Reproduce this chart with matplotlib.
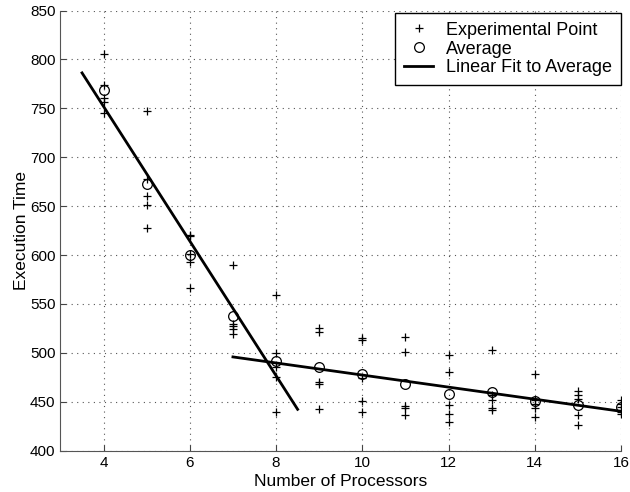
import numpy as np
import matplotlib
matplotlib.use("Agg")
from matplotlib import pyplot as plt

plt.rcParams['font.family'] = ['Liberation Sans', 'DejaVu Sans']

# measured execution times, 5 runs per processor count
procs = [4, 5, 6, 7, 8, 9, 10, 11, 12, 13, 14, 15, 16]
runs = [
    [806, 774, 761, 757, 745],
    [747, 678, 660, 651, 628],
    [621, 619, 601, 593, 566],
    [590, 530, 527, 524, 519],
    [559, 500, 486, 475, 440],
    [525, 521, 470, 468, 443],
    [515, 513, 474, 451, 440],
    [516, 501, 446, 444, 436],
    [498, 480, 447, 438, 429],
    [503, 457, 452, 444, 442],
    [478, 452, 448, 444, 434],
    [461, 457, 453, 436, 426],
    [452, 448, 445, 440, 437],
]
# fit ranges and the x-span each fitted line is drawn over
fit1_procs, fit1_span = (4, 8), (3.5, 8.5)
fit2_procs, fit2_span = (8, 16), (7, 16)

procs = np.array(procs)
avg = np.array([np.mean(r) for r in runs])

fig = plt.figure(figsize=(6.3, 4.92), dpi=100)
ax = fig.add_axes([0.096, 0.084, 0.8897, 0.8945])

xs = np.repeat(procs, [len(r) for r in runs])
ys = np.concatenate(runs)
ax.plot(xs, ys, '+', color='black', markersize=6, markeredgewidth=0.9,
        label='Experimental Point')
ax.plot(procs, avg, 'o', markerfacecolor='none', markeredgecolor='black',
        markersize=7, markeredgewidth=0.9, label='Average')

for (lo, hi), span, lab in [(fit1_procs, fit1_span, 'Linear Fit to Average'),
                            (fit2_procs, fit2_span, None)]:
    m = (procs >= lo) & (procs <= hi)
    k, b = np.polyfit(procs[m], avg[m], 1)
    xl = np.array(span)
    ax.plot(xl, k * xl + b, '-', color='black', linewidth=2, label=lab)

ax.set_xlim(3, 16)
ax.set_ylim(400, 850)
ax.set_xticks(range(4, 17, 2))
ax.set_yticks(range(400, 851, 50))
ax.set_xlabel('Number of Processors', fontsize=12.5, labelpad=3)
ax.set_ylabel('Execution Time', fontsize=12.5, labelpad=1)
ax.tick_params(direction='in', labelsize=11, length=4, color='#444444')
ax.grid(True, linestyle=(0, (1, 4)), color='#555555', linewidth=0.8)
for s in ['top', 'right']:
    ax.spines[s].set_visible(False)
for s in ['left', 'bottom']:
    ax.spines[s].set_color('#555555')

leg = ax.legend(loc='upper right', bbox_to_anchor=(1.0, 0.995), fontsize=13,
                fancybox=False, framealpha=1, edgecolor='black',
                borderaxespad=0.0, handlelength=1.6, handletextpad=0.7,
                labelspacing=0.1, borderpad=0.5)
leg.get_frame().set_linewidth(1.0)

fig.savefig('out.png', dpi=100)
